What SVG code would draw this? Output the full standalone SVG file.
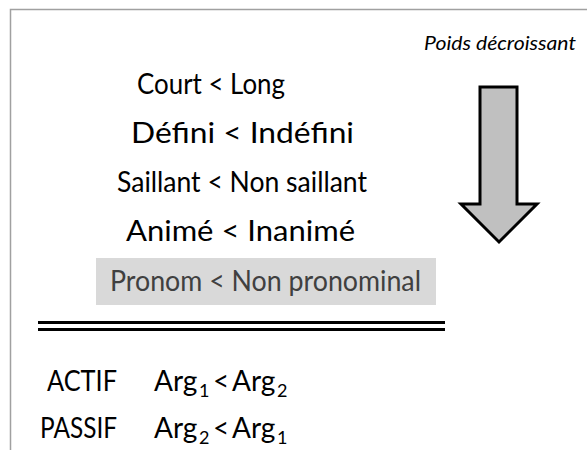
<svg xmlns="http://www.w3.org/2000/svg" width="587" height="450" viewBox="0 0 587 450">
<style>
.t{font-family:Lato,"Open Sans","Liberation Sans",sans-serif;font-size:28px;fill:#000}
.s{font-family:Lato,"Open Sans","Liberation Sans",sans-serif;font-size:18px;fill:#000}
.frame{stroke:#a0a0a0;stroke-width:1.5;fill:none}
</style>
<rect width="587" height="450" fill="#fff"/>
<path class="frame" d="M10.5,450 V9.5 H587"/>
<text x="424" y="50" class="t" style="font-style:italic;font-size:19px" textLength="152" lengthAdjust="spacingAndGlyphs">Poids décroissant</text>
<g id="arrow"><path d="M480,87 H517 V204 H537 L499,242 L461,204 H480 Z" fill="#c0c0c0" stroke="#000" stroke-width="3" stroke-linejoin="miter"/></g>
<g id="n1"><text x="137" y="94" class="t" textLength="148" lengthAdjust="spacingAndGlyphs">Court &lt; Long</text></g>
<g id="n2"><text x="131" y="143" class="t" textLength="223" lengthAdjust="spacingAndGlyphs">Défini &lt; Indéfini</text></g>
<g id="n3"><text x="117" y="192" class="t" textLength="250" lengthAdjust="spacingAndGlyphs">Saillant &lt; Non saillant</text></g>
<g id="n4"><text x="126" y="241" class="t" textLength="229" lengthAdjust="spacingAndGlyphs">Animé &lt; Inanimé</text></g>
<g id="n5"><rect x="96" y="258" width="340" height="47" fill="#d9d9d9"/><text x="110" y="291" class="t" style="fill:#404040" textLength="311" lengthAdjust="spacingAndGlyphs">Pronom &lt; Non pronominal</text></g>
<g id="sep"><rect x="38" y="321" width="407" height="3" fill="#000"/><rect x="38" y="328" width="407" height="3" fill="#000"/></g>
<g id="actif"><text x="47" y="391" class="t" textLength="70" lengthAdjust="spacingAndGlyphs">ACTIF</text>
<text x="154" y="391" class="t">Arg</text>
<text x="199" y="397" class="s">1</text>
<text x="213" y="391" class="t">&lt;</text>
<text x="232" y="391" class="t">Arg</text>
<text x="277" y="397" class="s">2</text></g>
<g id="passif"><text x="40" y="438" class="t" textLength="77" lengthAdjust="spacingAndGlyphs">PASSIF</text>
<text x="154" y="438" class="t">Arg</text>
<text x="199" y="444" class="s">2</text>
<text x="213" y="438" class="t">&lt;</text>
<text x="232" y="438" class="t">Arg</text>
<text x="277" y="444" class="s">1</text></g>
</svg>
